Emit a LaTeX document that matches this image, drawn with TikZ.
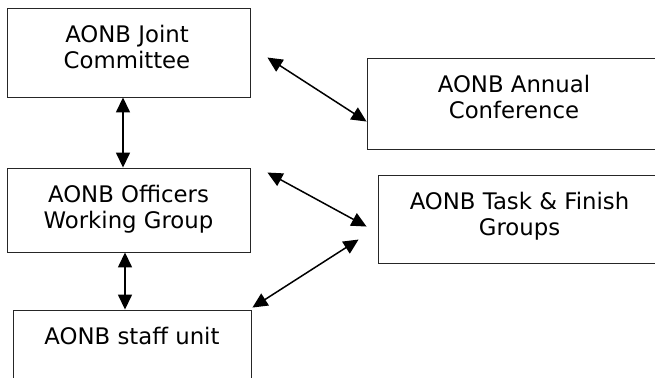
\documentclass[tikz,border=0pt]{standalone}
\usepackage{fontspec}
\setmainfont{DejaVu Sans}
\usetikzlibrary{arrows.meta,calc}
\tikzset{
  box/.style={draw=black!85, line width=0.9pt, rectangle, inner sep=0pt},
  txt/.style={anchor=north, inner sep=0pt, align=center, font=\fontsize{22.8}{26}\selectfont},
  link/.style={line width=1.5pt, {Triangle[length=15pt,width=14pt]}-{Triangle[length=15pt,width=14pt]}}
}
\begin{document}
\begin{tikzpicture}[x=1pt,y=-1pt]
\useasboundingbox (0,0) rectangle (655,377);
\clip (0,0) rectangle (655,377);
% boxes
\node[box, minimum width=243pt, minimum height=89pt] (jc) at (128.5,52.5) {};
\node[box, minimum width=243pt, minimum height=84pt] (owg) at (128.5,210) {};
\node[box, minimum width=238pt, minimum height=90pt] (staff) at (132,355) {};
\node[box, minimum width=294pt, minimum height=91pt] (conf) at (514,103.5) {};
\node[box, minimum width=283pt, minimum height=88pt] (task) at (519.5,219) {};
% texts
\node[txt] (jct) at ($(jc.north)+(-1.5,17)$) {AONB Joint\\Committee};
\node[txt] (owgt) at ($(owg.north)+(0,17)$) {AONB Officers\\Working Group};
\node[txt] (stafft) at ($(staff.north)+(0,17)$) {AONB staff unit};
\node[txt] (conft) at ($(conf.north)+(0,17)$) {AONB Annual\\Conference};
\node[txt] (taskt) at ($(task.north)+(0,17)$) {AONB Task \& Finish\\Groups};
% connector ends
\coordinate (a1) at ($(jc.north east)+(17,50)$);
\coordinate (a2) at ($(conf.north west)+(0,64)$);
\coordinate (b1) at ($(owg.north east)+(17,5)$);
\coordinate (b2) at ($(task.north west)+(-11,52)$);
\coordinate (c1) at ($(staff.north east)+(1,-2)$);
\coordinate (c2) at ($(task.north west)+(-19,65)$);
% connectors
\draw[link] ([xshift=-5.5pt]jc.south) -- ([xshift=-5.5pt]owg.north);
\draw[link] ([xshift=-3.5pt]owg.south) -- ([xshift=-7pt]staff.north);
\draw[link] (a1) -- (a2);
\draw[link] (b1) -- (b2);
\draw[link] (c1) -- (c2);
\end{tikzpicture}
\end{document}
